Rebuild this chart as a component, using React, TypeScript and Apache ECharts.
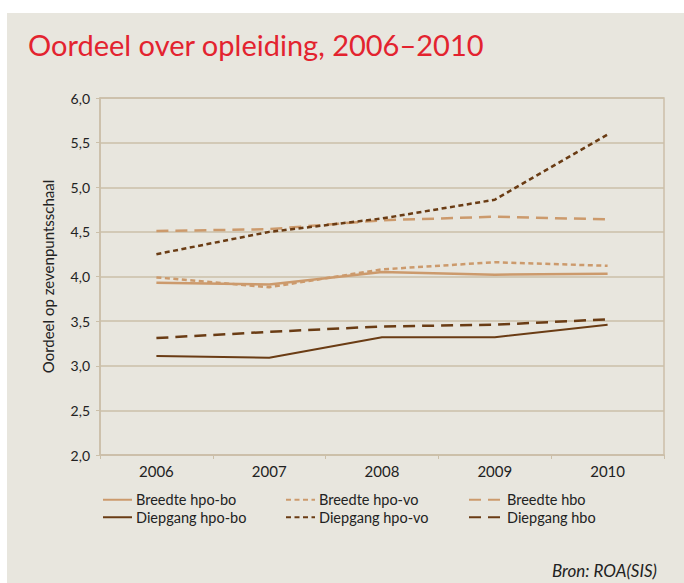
import React, { useEffect, useRef } from "react";
import * as echarts from "echarts";

const years = ["2006", "2007", "2008", "2009", "2010"];
const breedteHpoBo = [3.93, 3.91, 4.05, 4.02, 4.03];
const breedteHpoVo = [3.99, 3.88, 4.08, 4.16, 4.12];
const breedteHbo = [4.51, 4.53, 4.63, 4.67, 4.64];
const diepgangHpoBo = [3.11, 3.09, 3.32, 3.32, 3.46];
const diepgangHpoVo = [4.25, 4.5, 4.65, 4.86, 5.59];
const diepgangHbo = [3.31, 3.38, 3.44, 3.46, 3.52];

const LIGHT = "#cc9a6c";
const DARK = "#6a3c14";
const GRID = "#cbbfa9";
const FONT = "Lato";

export default function App() {
  const ref = useRef<HTMLDivElement>(null);
  useEffect(() => {
    const chart = echarts.init(ref.current!, null, { renderer: "svg" });
    const mk = (name: string, data: number[], color: string, type: any, width: number) => ({
      name,
      type: "line",
      data,
      symbol: "none",
      lineStyle: { color, type, width },
      itemStyle: { color },
    });
    const legendBase = {
      orient: "vertical",
      top: 491,
      padding: 0,
      itemWidth: 29,
      itemHeight: 2,
      itemGap: 0,
      itemStyle: { color: "rgba(0,0,0,0)", borderWidth: 0, opacity: 0 },
      textStyle: { fontFamily: FONT, fontSize: 14.5, lineHeight: 17.5, color: "#222", padding: [0, 0, 0, -1] },
    };
    chart.setOption({
      animation: false,
      backgroundColor: "#ffffff",
      graphic: [
        { type: "rect", left: 7, top: 13, shape: { width: 684, height: 583 }, style: { fill: "#e8e6de" }, z: -10 },
        { type: "text", left: 28, top: 30, style: { text: "Oordeel over opleiding, 2006–2010", fill: "#e3232f", fontFamily: FONT, fontSize: 29 } },
        { type: "text", right: 27, top: 562, style: { text: "Bron: ROA(SIS)", fill: "#222", fontFamily: FONT, fontSize: 17, fontStyle: "italic" } },
      ],
      legend: [
        { ...legendBase, left: 102, data: ["Breedte hpo-bo", "Diepgang hpo-bo"] },
        { ...legendBase, left: 285, data: ["Breedte hpo-vo", "Diepgang hpo-vo"] },
        { ...legendBase, left: 468, itemWidth: 34, data: ["Breedte hbo", "Diepgang hbo"] },
      ],
      grid: { left: 100, right: 20, top: 98, height: 357, show: true, borderColor: GRID, borderWidth: 1.5 },
      xAxis: {
        type: "category",
        data: years,
        boundaryGap: true,
        axisLine: { lineStyle: { color: GRID, width: 1.5 } },
        axisTick: { show: true, lineStyle: { color: GRID }, length: 4 },
        axisLabel: { color: "#222", fontFamily: FONT, fontSize: 15, margin: 8 },
      },
      yAxis: {
        type: "value",
        min: 2,
        max: 6,
        interval: 0.5,
        name: "Oordeel op zevenpuntsschaal",
        nameLocation: "middle",
        nameGap: 45,
        nameTextStyle: { color: "#222", fontFamily: FONT, fontSize: 15 },
        axisLine: { show: true, lineStyle: { color: GRID, width: 1.5 } },
        axisTick: { show: true, lineStyle: { color: GRID }, length: 4 },
        splitLine: { lineStyle: { color: GRID, width: 1.5 } },
        axisLabel: {
          color: "#222",
          fontFamily: FONT,
          fontSize: 14,
          margin: 10,
          formatter: (v: number) => v.toFixed(1).replace(".", ","),
        },
      },
      series: [
        mk("Breedte hpo-bo", breedteHpoBo, LIGHT, "solid", 2.5),
        mk("Breedte hpo-vo", breedteHpoVo, LIGHT, [5, 3.5], 2.5),
        mk("Breedte hbo", breedteHbo, LIGHT, [12, 7], 2.5),
        mk("Diepgang hpo-bo", diepgangHpoBo, DARK, "solid", 2),
        mk("Diepgang hpo-vo", diepgangHpoVo, DARK, [5, 3.5], 2.5),
        mk("Diepgang hbo", diepgangHbo, DARK, [12, 7], 2.5),
      ],
    });
    return () => chart.dispose();
  }, []);
  return (
    <div
      ref={ref}
      style={{ position: "fixed", left: 0, top: 0, width: 684, height: 583 }}
    />
  );
}
